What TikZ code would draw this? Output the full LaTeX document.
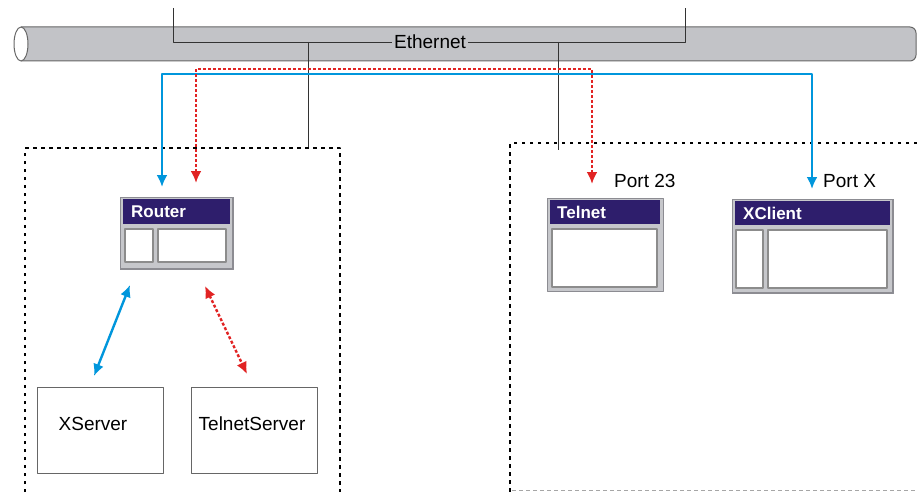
\documentclass[tikz,border=0pt]{standalone}
\usepackage{fontspec}
\setmainfont{Liberation Sans}
\usetikzlibrary{arrows.meta}
\definecolor{cablegray}{RGB}{194,195,199}
\definecolor{winpurple}{RGB}{46,30,108}
\definecolor{framegray}{RGB}{198,199,203}
\definecolor{shadegray}{RGB}{140,140,146}
\definecolor{linkblue}{RGB}{0,150,220}
\definecolor{linkred}{RGB}{225,35,35}
\tikzset{
 hostbox/.style={draw=black, line width=1.6pt, dash pattern=on 3.5pt off 4.5pt},
 procbox/.style={draw=black!60, line width=0.8pt, fill=white, anchor=north west},
 winframe/.style={draw=shadegray, line width=0.6pt, fill=framegray, anchor=north west, inner sep=0pt},
 wintitle/.style={fill=winpurple},
 titletext/.style={text=white, anchor=west, inner sep=0pt, font=\bfseries\fontsize{17}{20}\selectfont},
 winpane/.style={fill=white, draw=black!45, line width=1.2pt},
 bluelink/.style={draw=linkblue, line width=2.4pt, {Latex[length=12pt,width=11pt]}-{Latex[length=12pt,width=11pt]}},
 redlink/.style={draw=linkred, line width=2.4pt, dash pattern=on 3pt off 2pt,
   {Latex[length=12pt,width=11pt]}-{Latex[length=12pt,width=11pt]}},
 lbl/.style={inner sep=0pt, font=\fontsize{19}{22}\selectfont}
}
\begin{document}
\begin{tikzpicture}[x=1pt, y=-1pt, line join=round]
 \useasboundingbox (0,0) rectangle (917,492);
 % ethernet cable
 \draw[black!60, line width=1pt, fill=cablegray] (21,27) -- (910,27)
   arc[start angle=90, end angle=0, radius=6pt] -- (916,55)
   arc[start angle=0, end angle=-90, radius=6pt] -- (21,61);
 \draw[black!60, line width=1pt, fill=white] (21,44) ellipse [x radius=7pt, y radius=17pt];
 \node[lbl, fill=cablegray, inner xsep=2pt] (eth) at (430,42) {Ethernet};
 \draw[black!80, line width=0.6pt] (173,8) |- (eth.west);
 \draw[black!80, line width=0.6pt] (eth.east) -| (685,8);
 \draw[black!80, line width=0.6pt] (308,42) -- (308,148);
 \draw[black!80, line width=0.6pt] (558,42) -- (558,150);

 % hosts
 \draw[hostbox] (25,492) |- (340,148) -- (340,492);
 \draw[hostbox] (917,143) -| (510,492);
 \draw[black!35, line width=0.8pt, dash pattern=on 4pt off 3pt] (512,490) -- (917,490);

 % router window
 \node[winframe, minimum width=113pt, minimum height=72pt] (router) at (120,197) {};
 \fill[wintitle] (123,199) rectangle (230,224);
 \node[titletext] (router-title) at (131,212) {Router};
 \draw[winpane] (125,229) rectangle (153,262);
 \draw[winpane] (158,229) rectangle (226,262);
 \draw[shadegray, line width=1.4pt] (120,269) -- (233,269) -- (233,197);

 % telnet window
 \node[winframe, minimum width=116pt, minimum height=93pt] (telnet) at (547,198) {};
 \fill[wintitle] (550,200) rectangle (660,224);
 \node[titletext] (telnet-title) at (557,212) {Telnet};
 \draw[winpane] (552,229) rectangle (657,287);

 % xclient window
 \node[winframe, minimum width=161pt, minimum height=94pt] (xclient) at (732,199) {};
 \fill[wintitle] (735,201) rectangle (890,225);
 \node[titletext] (xclient-title) at (743,213) {XClient};
 \draw[winpane] (736,230) rectangle (763,288);
 \draw[winpane] (768,230) rectangle (887,288);
 \draw[shadegray, line width=1.4pt] (732,293) -- (893,293) -- (893,199);

 \node[lbl, anchor=west] (port23) at (614,181) {Port 23};
 \node[lbl, anchor=west] (portx) at (823,181) {Port X};

 % servers
 \node[procbox, minimum width=126pt, minimum height=86pt] (xserver) at (37,387) {};
 \node[lbl] (xserver-text) at (93,424) {XServer};
 \node[procbox, minimum width=126pt, minimum height=86pt] (tserver) at (191,387) {};
 \node[lbl] (tserver-text) at (252,424) {TelnetServer};

 % links
 \coordinate (rblue) at (162,187);
 \coordinate (rred) at (196,183);
 \coordinate (xblue) at (812,189);
 \coordinate (tred) at (592,184);
 \draw[bluelink] (rblue) -- (rblue |- 0,74) -- (xblue |- 0,74) -- (xblue);
 \draw[redlink] (rred) -- (rred |- 0,69) -- (tred |- 0,69) -- (tred);

 \coordinate (rxs) at (130,285);
 \coordinate (xsr) at (94,376);
 \coordinate (rts) at (205,286);
 \coordinate (tsr) at (247,374);
 \draw[bluelink] (rxs) -- (xsr);
 \draw[redlink] (rts) -- (tsr);
\end{tikzpicture}
\end{document}
